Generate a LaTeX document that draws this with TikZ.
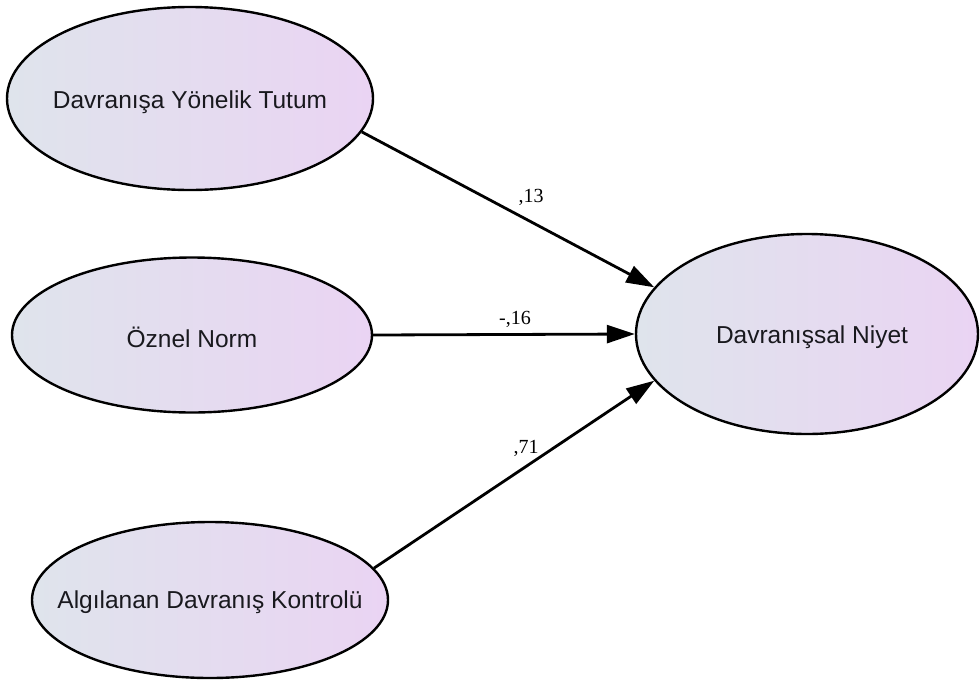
\documentclass[tikz,border=0pt]{standalone}
\usepackage{fontspec}
\setmainfont{Liberation Sans}
\newfontfamily\lblfont{Liberation Serif}
\usetikzlibrary{shapes.geometric,arrows.meta}
\definecolor{ellleft}{RGB}{223,228,236}
\definecolor{ellright}{RGB}{234,212,243}
\definecolor{txt}{RGB}{25,25,30}
\tikzset{
  ell/.style={ellipse, draw=black, line width=2.4pt, inner sep=0pt,
    left color=ellleft, right color=ellright, shading angle=90},
  ltxt/.style={font=\fontsize{24.5}{28}\selectfont, text=txt},
  coef/.style={font=\lblfont\fontsize{20}{22}\selectfont, text=black},
  conn/.style={line width=2.8pt, -{Triangle[length=28pt,width=18pt]}}
}
\begin{document}
\begin{tikzpicture}[x=1pt,y=-1pt]
\useasboundingbox[fill=white] (0,0) rectangle (980,681);
\node[ell, minimum width=366pt, minimum height=183pt] (a) at (190,98.5) {};
\node[ltxt] (at) at (190,102) {Davranışa Yönelik Tutum};
\node[ell, minimum width=360pt, minimum height=155pt] (b) at (192,335) {};
\node[ltxt] (bt) at (192,337) {Öznel Norm};
\node[ell, minimum width=356pt, minimum height=156pt] (c) at (210,600) {};
\node[ltxt] (ct) at (210,602) {Algılanan Davranış Kontrolü};
\node[ell, minimum width=342pt, minimum height=200pt] (d) at (807,334) {};
\node[ltxt] (dt) at (812,337) {Davranışsal Niyet};
\draw[conn] (a.-11.5) -- (d.163.9);
\draw[conn] (b.east) -- (d.west);
\draw[conn] (c.11.2) -- (d.197.3);
\node[coef] (l1) at (531,197) {,13};
\node[coef] (l2) at (515,319) {-,16};
\node[coef] (l3) at (526,448) {,71};
\end{tikzpicture}
\end{document}
